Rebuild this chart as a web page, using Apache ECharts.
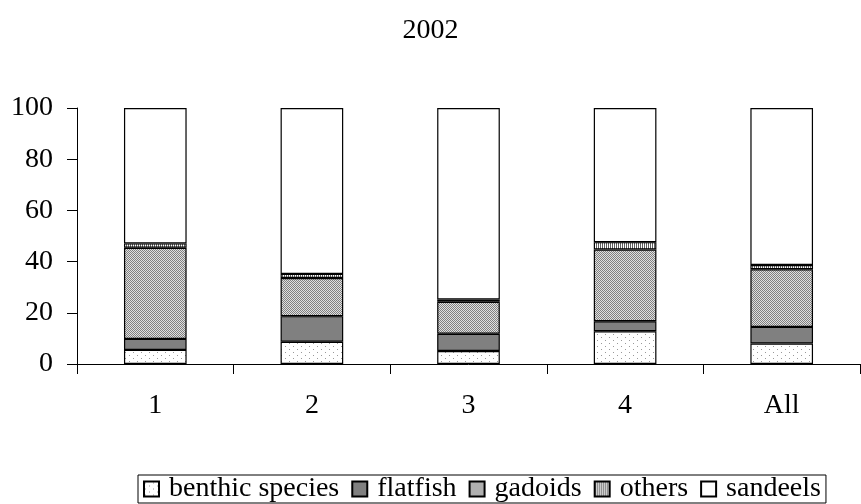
<!DOCTYPE html>
<html><head><meta charset="utf-8">
<script src="https://cdn.jsdelivr.net/npm/echarts@6/dist/echarts.min.js"></script>
<style>html,body{margin:0;padding:0;background:#fff}#c{width:861px;height:504px}</style>
</head><body><div id="c"></div>
<script>
const categories = ['1', '2', '3', '4', 'All'];
const benthic = [5.5, 8.7, 5.1, 12.8, 8.0];
const flatfish = [4.3, 10.0, 6.7, 3.9, 6.5];
const gadoids = [35.6, 14.9, 12.5, 28.0, 22.5];
const others = [1.7, 1.6, 0.9, 2.9, 1.7];
const sandeels = [52.9, 64.8, 74.8, 52.4, 61.3];
const yTicks = [0, 20, 40, 60, 80, 100];

function pat(w, h, bg, pts, fg) {
  const c = document.createElement('canvas');
  c.width = w; c.height = h;
  const g = c.getContext('2d');
  g.fillStyle = bg; g.fillRect(0, 0, w, h);
  g.fillStyle = fg;
  pts.forEach(p => g.fillRect(p[0], p[1], p[2] || 1, p[3] || 1));
  return { image: c, repeat: 'repeat' };
}
const dotPat = pat(8, 6, '#ffffff', [[1,1],[5,4]], '#999999');
const checkPat = pat(2, 2, '#e0e0e0', [[0,0],[1,1]], '#808080');
const stripePat = pat(2, 2, '#ffffff', [[0,0,1,2]], '#606060');

const names = ['benthic species', 'flatfish', 'gadoids', 'others', 'sandeels'];
const datas = [benthic, flatfish, gadoids, others, sandeels];
const fills = [dotPat, '#808080', checkPat, stripePat, '#ffffff'];

const chart = echarts.init(document.getElementById('c'), null, { renderer: 'canvas' });
const font = 'Liberation Serif';
chart.setOption({
  animation: false,
  backgroundColor: '#fff',
  title: { text: '2002', left: 'center', top: 12, textStyle: { fontFamily: font, fontSize: 28, fontWeight: 'normal', color: '#000' } },
  grid: { left: 77, right: 1, top: 108, bottom: 140 },
  legend: {
    left: 138, top: 475,
    data: names,
    icon: 'rect', itemWidth: 15, itemHeight: 15, itemGap: 12,
    borderColor: '#000', borderWidth: 1, padding: [0, 5, 0, 5],
    textStyle: { fontFamily: font, fontSize: 28, color: '#000', lineHeight: 26, padding: [0, 0, 0, 5] }
  },
  xAxis: {
    type: 'category', data: categories,
    axisLine: { lineStyle: { color: '#000', width: 1 } },
    axisTick: { show: true, inside: false, length: 10, lineStyle: { color: '#000' } },
    axisLabel: { fontFamily: font, fontSize: 28, color: '#000', margin: 28 }
  },
  yAxis: {
    type: 'value', min: 0, max: 100, interval: 20,
    axisLine: { show: true, lineStyle: { color: '#000', width: 1 } },
    axisTick: { show: true, length: 10, lineStyle: { color: '#000' } },
    axisLabel: { fontFamily: font, fontSize: 28, color: '#000', margin: 24,
      formatter: v => yTicks.includes(v) ? String(v) : '' },
    splitLine: { show: false }
  },
  series: names.map((n, i) => ({
    name: n, type: 'bar', stack: 'all', data: datas[i], barWidth: '40%',
    itemStyle: { color: fills[i], borderColor: '#000', borderWidth: 1.2 }
  }))
});
</script></body></html>
